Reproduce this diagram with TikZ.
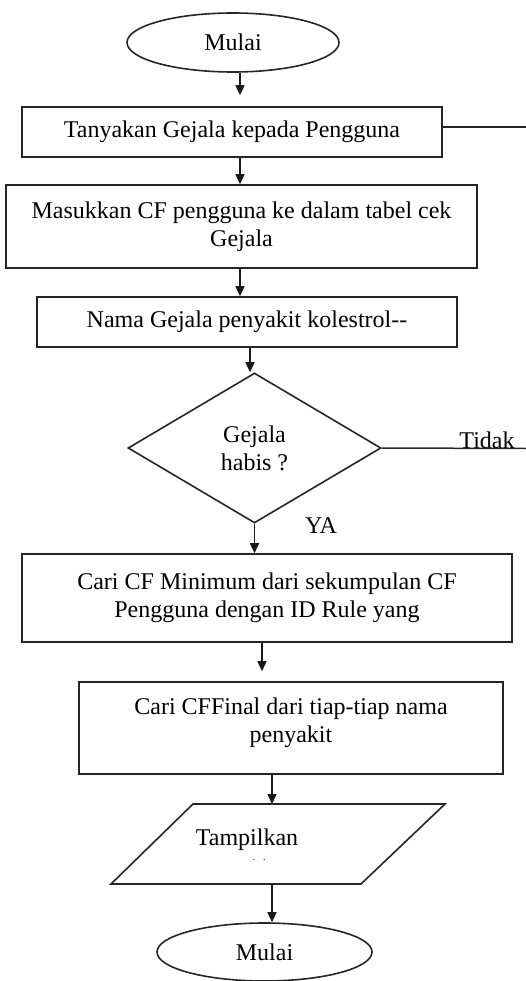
\documentclass[tikz,border=0pt]{standalone}
\usepackage{fontspec}
\setmainfont{Liberation Serif}
\usetikzlibrary{shapes.geometric,arrows.meta}
\begin{document}
\begin{tikzpicture}[x=1pt,y=-1pt,
  txt/.style={font=\fontsize{24}{28}\selectfont, align=center, text=black},
  shapeline/.style={draw=black!85, line width=1.6pt},
  box/.style={txt, shapeline, rectangle, inner sep=0pt},
  term/.style={txt, shapeline, ellipse, inner sep=0pt},
  decide/.style={txt, shapeline, diamond, inner sep=0pt},
  arr/.style={draw=black!90, line width=1.5pt, -{Triangle[length=10pt,width=9pt]}},
  plain/.style={draw=black!85, line width=1.5pt}
]
\useasboundingbox (0,0) rectangle (526,981);
\fill[white] (0,0) rectangle (526,981);

\node[term, minimum width=212pt, minimum height=59pt] (m1) at (233,42.5) {Mulai};
\node[box, minimum width=420pt, minimum height=50pt] (b1) at (232,132) {Tanyakan Gejala kepada Pengguna};
\node[box, minimum width=471pt, minimum height=83pt] (b2) at (241.5,226.5) {Masukkan CF pengguna ke dalam tabel cek\\Gejala};
\node[box, minimum width=420pt, minimum height=50pt] (b3) at (247,322) {Nama Gejala penyakit kolestrol-{}-};
\node[decide, minimum width=253pt, minimum height=150pt] (dia) at (254.5,448) {Gejala\\habis ?};
\node[box, minimum width=490pt, minimum height=88pt] (b4) at (267,598) {Cari CF Minimum dari sekumpulan CF\\Pengguna dengan ID Rule yang};
\node[box, minimum width=424pt, minimum height=92pt] (b5) at (291,728) {Cari CFFinal dari tiap-tiap nama\\penyakit\\[-12pt]};

% parallelogram (input/output)
\coordinate (ptl) at (193,804);
\coordinate (ptr) at (445,804);
\coordinate (pbr) at (361,884);
\coordinate (pbl) at (111,884);
\draw[shapeline, line join=miter] (ptl) -- (ptr) -- (pbr) -- (pbl) -- cycle;
\coordinate (ptop) at (272,804);
\coordinate (pbot) at (272,884);
\node[txt] (tampil) at (247,840) {Tampilkan};
\node[font=\fontsize{10}{10}\selectfont, inner sep=0pt] (dots) at (259,860) {.\hspace{8pt}.};

\node[term, minimum width=215pt, minimum height=58pt] (m2) at (264.5,952) {Mulai};

\node[txt, inner sep=0pt] (tidak) at (487,440) {Tidak};
\node[txt, inner sep=0pt] (ya) at (321,526) {YA};

\coordinate (e1) at (526,127);
\coordinate (e2) at (526,448.5);

\draw[arr, shorten >=11pt] ([xshift=7pt]m1.south) -- ([xshift=7pt]m1.south |- b1.north);
\draw[arr] ([xshift=8pt]b1.south) -- ([xshift=8pt]b1.south |- b2.north);
\draw[arr] ([xshift=-1.5pt]b2.south) -- ([xshift=-1.5pt]b2.south |- b3.north);
\draw[arr] ([xshift=3pt]b3.south) -- ([xshift=3pt]b3.south |- dia.north);
\draw[arr] (dia.south) -- (dia.south |- b4.north);
\draw[arr, shorten >=10pt] ([xshift=-5pt]b4.south) -- ([xshift=-5pt]b4.south |- b5.north);
\draw[arr] (b5.south -| ptop) -- (ptop);
\draw[arr] (pbot) -- (m2.north -| pbot);

\draw[plain] (b1.east |- e1) -- (e1);
\draw[plain] (dia.east) -- (e2);
\end{tikzpicture}
\end{document}
